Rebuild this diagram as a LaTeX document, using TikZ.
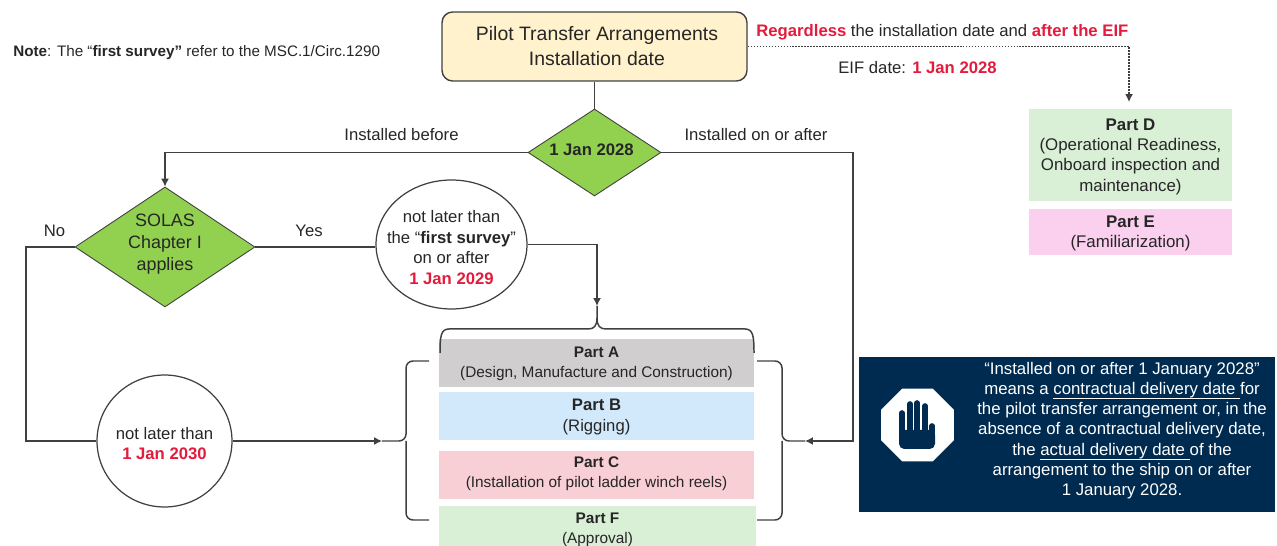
\documentclass[tikz,border=0pt]{standalone}
\usepackage{fontspec}
\usepackage{xcolor}
\usetikzlibrary{shapes.geometric,arrows.meta}
\setmainfont{Liberation Sans}
\definecolor{topfill}{HTML}{FFF2CC}
\definecolor{diamondgreen}{HTML}{92D050}
\definecolor{alertred}{HTML}{E31B3C}
\definecolor{lineGrey}{HTML}{404040}
\definecolor{partgrey}{HTML}{D0CECE}
\definecolor{partblue}{HTML}{D2E9FC}
\definecolor{partred}{HTML}{F8CFD4}
\definecolor{partgreen}{HTML}{D9EFD6}
\definecolor{partpink}{HTML}{FBCFEE}
\definecolor{navy}{HTML}{002B50}
\newcommand{\hot}[1]{\textcolor{alertred}{\textbf{#1}}}
\newcommand{\tall}[1]{\rule{0pt}{#1}}
\newcommand{\ul}[1]{\underline{\smash{#1}\rule[-1pt]{0pt}{1pt}}}
\begin{document}
\begin{tikzpicture}[x=0.02cm,y=0.02cm]
\tikzstyle{every node}+=[inner sep=0pt,text=black!85]
\tikzstyle{link}=[draw=lineGrey,line width=0.7pt]
\tikzstyle{linkarrow}=[link,-{Latex[length=4.5pt,width=4.5pt]}]
\tikzstyle{curly}=[draw=lineGrey,line width=0.85pt]
\tikzstyle{lbl}=[font=\fontsize{9.5}{11.7}\selectfont,align=center]
\tikzstyle{decision}=[diamond,aspect=1.5,fill=diamondgreen,draw=lineGrey,line width=0.5pt,lbl]
\tikzstyle{deadline}=[ellipse,inner xsep=-14pt,draw=lineGrey,line width=0.7pt,fill=white,lbl]
\tikzstyle{part}=[minimum width=6.3cm,font=\fontsize{8.75}{11.4}\selectfont,align=center]
\tikzstyle{sidepart}=[minimum width=4.06cm,font=\fontsize{9.6}{11.6}\selectfont,align=center]
\useasboundingbox (0,-546) rectangle (1277,0);
% top row
\node [draw=lineGrey,line width=0.8pt,fill=topfill,rounded corners=6pt,minimum width=6.1cm,minimum height=1.38cm,align=center,font=\fontsize{11.05}{14.2}\selectfont] (install) at (594.5,-46.5) {\hspace*{2.8pt}Pilot Transfer Arrangements\\\hspace*{2.8pt}Installation date};
\node [anchor=west,font=\fontsize{8.66}{10}\selectfont] (note) at (13,-53) {\textbf{Note}: The “\textbf{first survey"} refer to the MSC.1/Circ.1290};
\node [lbl,anchor=west] (regardless) at (756,-32.5) {\hot{Regardless} the installation date and \hot{after the EIF}};
\node [lbl,anchor=west] (eifdate) at (838,-68) {EIF date: \hot{1 Jan 2028}};
% decisions
\node [decision,minimum width=2.66cm,minimum height=1.74cm] (datecheck) at (594.5,-152.5) {\raisebox{3pt}{\textbf{1 Jan 2028}\hspace*{3.4pt}}};
\node [decision,minimum width=3.6cm,minimum height=2.4cm,font=\fontsize{10.2}{12.4}\selectfont] (solas) at (165,-247) {SOLAS\\Chapter I\\applies\rule[-5.4pt]{0pt}{5.4pt}};
\node [deadline,minimum width=3.02cm,minimum height=2.58cm] (firstsurvey) at (451.5,-244.5) {\tall{10.3pt}not later than\\the “\textbf{first survey}”\\on or after\\\hot{1 Jan 2029}};
\node [deadline,minimum width=2.7cm,minimum height=2.64cm] (later) at (164.5,-441) {\tall{9.7pt}not later than\\\hot{1 Jan 2030}};
% parts
\node [part,fill=partgrey,minimum height=0.96cm] (parta) at (596.5,-363) {\tall{7.1pt}\textbf{Part A}\\(Design, Manufacture and Construction)};
\node [part,fill=partblue,minimum height=0.96cm,font=\fontsize{9.5}{12.2}\selectfont] (partb) at (596.5,-416) {\tall{7.6pt}\textbf{Part B}\\(Rigging)};
\node [part,fill=partred,minimum height=0.96cm] (partc) at (596.5,-475) {\raisebox{3pt}{\textbf{Part C}}\\\raisebox{3pt}{(Installation of pilot ladder winch reels)}};
\node [part,fill=partgreen,minimum width=6.34cm,minimum height=0.92cm] (partf) at (597.5,-529) {\tall{7.1pt}\textbf{Part F}\\(Approval)};
\node [sidepart,fill=partgreen,minimum height=1.84cm] (partd) at (1130.5,-155) {\tall{8.6pt}\textbf{Part D}\\(Operational Readiness,\\Onboard inspection and\\maintenance)};
\node [sidepart,fill=partpink,minimum height=0.92cm] (parte) at (1130.5,-232) {\tall{8pt}\textbf{Part E}\\(Familiarization)};
% braces
\coordinate (topin) at (597,-306);
\coordinate (leftin) at (382,-441);
\coordinate (rightin) at (805,-441);
\coordinate (eifin) at (1129,-102);
\draw [curly] (440,-353) .. controls (440,-336) and (441,-329) .. (449,-329) -- (588,-329) .. controls (594,-329) and (597,-326) .. (597,-318) -- (topin);
\draw [curly] (597,-318) .. controls (597,-326) and (600,-329) .. (606,-329) -- (745,-329) .. controls (753,-329) and (754,-336) .. (754,-353);
\draw [curly,rounded corners=4pt] (429,-361) -- (406,-361) -- (406,-441) -- (leftin);
\draw [curly,rounded corners=4pt] (429,-520) -- (406,-520) -- (406,-441);
\draw [curly,rounded corners=4pt] (757,-361) -- (782,-361) -- (782,-441) -- (rightin);
\draw [curly,rounded corners=4pt] (757,-520) -- (782,-520) -- (782,-441);
% connectors
\draw [link] (install) -- (datecheck);
\draw [linkarrow] (datecheck.west) -| (solas.north);
\draw [linkarrow] (datecheck.east) -| (853,-441) -- (rightin);
\draw [link] (solas.east) -- (solas.east -| firstsurvey.west);
\draw [linkarrow] (firstsurvey.east) -| (topin);
\draw [link] (solas.west) -| (26,-441) -- (later.west);
\draw [linkarrow] (later.east) -- (leftin);
\draw [linkarrow,dash pattern=on 1pt off 0.7pt] (install.east) -| (eifin);
\node [lbl] (before) at (401.5,-135) {Installed before};
\node [lbl] (onafter) at (756,-135) {Installed on or after};
\node [lbl] (no) at (54.5,-231) {No};
\node [lbl] (yes) at (309,-231) {Yes};
% notice panel
\node [fill=navy,minimum width=8.32cm,minimum height=3.1cm] (panel) at (1067,-434.5) {};
\node [text=white,align=center,font=\fontsize{9.56}{11.5}\selectfont] (panelText) at (1122,-430.5) {“Installed on or after 1 January 2028”\\means a \ul{contractual delivery date\ }for\\the pilot transfer arrangement or, in the\\absence of a contractual delivery date,\\the \ul{actual delivery date\ }of the\\arrangement to the ship on or after\\1 January 2028.};
\node [regular polygon,regular polygon sides=8,fill=white,minimum size=1.58cm] (stopsign) at (917.5,-425) {};
\fill [navy,rounded corners=3pt] (899,-430) rectangle (935,-449);
\draw [navy,line width=3.2pt,line cap=round] (902,-440) -- (902,-413);
\draw [navy,line width=3.2pt,line cap=round] (910,-440) -- (910,-404);
\draw [navy,line width=3.2pt,line cap=round] (917,-440) -- (917,-403);
\draw [navy,line width=3.2pt,line cap=round] (925,-440) -- (925,-406);
\draw [navy,line width=3.2pt,line cap=round] (932,-440) -- (932,-426);
\end{tikzpicture}
\end{document}
